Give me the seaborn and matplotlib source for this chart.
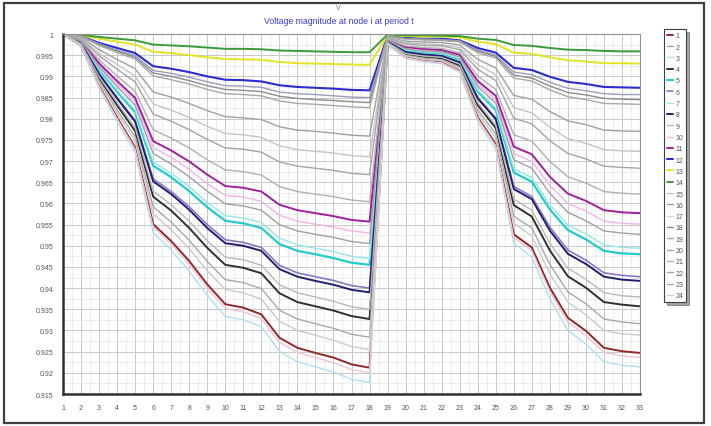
import numpy as np
import pandas as pd
import matplotlib
matplotlib.use("Agg")
import matplotlib.pyplot as plt
import seaborn as sns
from matplotlib.patches import Rectangle
from matplotlib.ticker import MultipleLocator, FuncFormatter

nodes = list(range(1, 34))
periods = [str(i) for i in range(1, 25)]

v01 = [1, .9998, .9993, .9989, .9985, .9975, .9973, .9971, .9968, .9965, .9965, .9964, .9961, .9960, .9959, .9958, .9957, .9957, .9999, .9997, .9997, .9996, .9995, .9989, .9986, .9974, .9972, .9967, .9963, .9962, .9960, .9959, .9959]
v02 = [1, .9997, .9989, .9982, .9975, .9958, .9955, .9950, .9945, .9941, .9940, .9939, .9934, .9931, .9930, .9929, .9928, .9927, .9998, .9995, .9994, .9994, .9992, .9982, .9976, .9956, .9953, .9945, .9938, .9935, .9931, .9931, .9930]
v03 = [1, .9995, .9979, .9967, .9955, .9924, .9918, .9910, .9900, .9892, .9891, .9888, .9879, .9875, .9873, .9871, .9868, .9867, .9996, .9991, .9989, .9989, .9985, .9967, .9956, .9920, .9915, .9899, .9887, .9882, .9875, .9874, .9873]
v04 = [1, .9995, .9977, .9962, .9949, .9914, .9907, .9898, .9887, .9878, .9877, .9874, .9863, .9859, .9857, .9854, .9851, .9850, .9995, .9989, .9988, .9987, .9984, .9962, .9950, .9910, .9904, .9886, .9872, .9866, .9859, .9857, .9857]
v05 = [1, .9994, .9975, .9960, .9945, .9908, .9900, .9890, .9878, .9869, .9867, .9864, .9853, .9848, .9845, .9843, .9840, .9838, .9995, .9989, .9987, .9986, .9982, .9960, .9947, .9903, .9896, .9877, .9862, .9856, .9848, .9846, .9845]
v06 = [1, .9994, .9973, .9956, .9941, .9901, .9892, .9882, .9869, .9859, .9857, .9854, .9842, .9836, .9834, .9831, .9828, .9826, .9995, .9988, .9986, .9985, .9981, .9956, .9943, .9896, .9889, .9868, .9852, .9845, .9836, .9835, .9834]
v07 = [1, .9992, .9963, .9940, .9918, .9863, .9851, .9836, .9819, .9805, .9802, .9798, .9781, .9773, .9770, .9766, .9761, .9759, .9993, .9983, .9981, .9980, .9974, .9940, .9920, .9855, .9846, .9817, .9795, .9786, .9773, .9771, .9770]
v08 = [1, .9990, .9955, .9928, .9901, .9835, .9820, .9803, .9782, .9765, .9762, .9756, .9736, .9727, .9723, .9719, .9713, .9710, .9991, .9980, .9977, .9975, .9968, .9928, .9904, .9826, .9814, .9780, .9753, .9742, .9727, .9724, .9723]
v09 = [1, .9988, .9949, .9917, .9887, .9811, .9794, .9774, .9751, .9731, .9728, .9721, .9698, .9688, .9683, .9678, .9671, .9668, .9990, .9977, .9973, .9972, .9963, .9917, .9890, .9801, .9788, .9748, .9718, .9705, .9688, .9685, .9683]
v10 = [1, .9986, .9939, .9901, .9865, .9774, .9754, .9731, .9703, .9679, .9675, .9667, .9640, .9628, .9622, .9616, .9608, .9604, .9988, .9972, .9968, .9966, .9956, .9901, .9869, .9762, .9747, .9699, .9663, .9648, .9628, .9624, .9622]
v11 = [1, .9984, .9931, .9889, .9849, .9747, .9725, .9699, .9668, .9641, .9637, .9628, .9597, .9584, .9577, .9570, .9561, .9557, .9987, .9969, .9965, .9962, .9951, .9889, .9854, .9734, .9716, .9663, .9623, .9606, .9584, .9579, .9577]
v12 = [1, .9984, .9927, .9882, .9840, .9732, .9709, .9680, .9647, .9619, .9615, .9605, .9572, .9558, .9551, .9544, .9535, .9530, .9986, .9967, .9962, .9960, .9948, .9882, .9845, .9718, .9699, .9643, .9600, .9582, .9558, .9553, .9551]
v13 = [1, .9983, .9923, .9876, .9832, .9718, .9693, .9663, .9629, .9599, .9594, .9584, .9550, .9535, .9527, .9520, .9510, .9505, .9985, .9965, .9960, .9958, .9946, .9876, .9837, .9703, .9683, .9624, .9579, .9559, .9535, .9530, .9527]
v14 = [1, .9981, .9918, .9868, .9820, .9698, .9671, .9640, .9602, .9571, .9565, .9555, .9518, .9502, .9494, .9486, .9475, .9470, .9984, .9963, .9958, .9955, .9942, .9868, .9825, .9682, .9661, .9597, .9549, .9528, .9502, .9496, .9494]
v15 = [1, .9981, .9916, .9864, .9815, .9689, .9662, .9629, .9591, .9559, .9553, .9542, .9504, .9488, .9480, .9471, .9460, .9455, .9984, .9962, .9956, .9954, .9940, .9864, .9820, .9673, .9651, .9586, .9537, .9515, .9488, .9482, .9480]
v16 = [1, .9979, .9907, .9850, .9796, .9658, .9628, .9592, .9550, .9514, .9508, .9496, .9454, .9436, .9427, .9418, .9406, .9400, .9982, .9958, .9952, .9949, .9934, .9850, .9802, .9640, .9616, .9544, .9490, .9466, .9436, .9430, .9427]
v17 = [1, .9979, .9905, .9848, .9793, .9652, .9622, .9585, .9542, .9506, .9500, .9488, .9445, .9427, .9417, .9408, .9396, .9390, .9982, .9957, .9951, .9948, .9933, .9848, .9799, .9634, .9610, .9536, .9481, .9457, .9427, .9420, .9417]
v18 = [1, .9977, .9899, .9838, .9779, .9629, .9597, .9558, .9512, .9473, .9467, .9454, .9408, .9389, .9379, .9369, .9356, .9350, .9980, .9954, .9948, .9945, .9929, .9838, .9785, .9610, .9584, .9506, .9447, .9421, .9389, .9382, .9379]
v19 = [1, .9976, .9896, .9832, .9771, .9616, .9583, .9542, .9495, .9455, .9448, .9435, .9388, .9367, .9357, .9347, .9334, .9327, .9980, .9953, .9946, .9943, .9926, .9832, .9778, .9596, .9569, .9489, .9428, .9401, .9367, .9361, .9357]
v20 = [1, .9975, .9889, .9821, .9757, .9592, .9556, .9513, .9463, .9420, .9413, .9399, .9348, .9327, .9316, .9305, .9291, .9284, .9979, .9950, .9943, .9939, .9921, .9821, .9764, .9570, .9542, .9456, .9391, .9363, .9327, .9320, .9316]
v21 = [1, .9974, .9885, .9814, .9747, .9575, .9538, .9493, .9441, .9397, .9389, .9374, .9322, .9300, .9289, .9277, .9262, .9255, .9978, .9948, .9940, .9937, .9918, .9814, .9754, .9553, .9523, .9434, .9367, .9337, .9300, .9292, .9289]
v22 = [1, .9972, .9878, .9803, .9732, .9551, .9511, .9464, .9409, .9362, .9354, .9338, .9283, .9259, .9247, .9236, .9220, .9212, .9976, .9945, .9937, .9933, .9913, .9803, .9740, .9527, .9496, .9401, .9330, .9299, .9259, .9251, .9247]
v23 = [1, .9972, .9876, .9800, .9728, .9544, .9504, .9456, .9400, .9352, .9344, .9328, .9272, .9248, .9236, .9224, .9208, .9200, .9976, .9944, .9936, .9932, .9912, .9800, .9736, .9520, .9488, .9392, .9320, .9288, .9248, .9240, .9236]
v24 = [1, .9971, .9872, .9794, .9720, .9531, .9490, .9440, .9383, .9333, .9325, .9309, .9251, .9226, .9214, .9202, .9185, .9177, .9975, .9942, .9934, .9930, .9910, .9794, .9728, .9506, .9473, .9375, .9300, .9268, .9226, .9218, .9214]

# series per period 1..24 (legend order)
series = [v22, v07, v24, v19, v15, v16, v14, v17, v18, v12, v11, v03,
          v02, v01, v08, v04, v23, v05, v06, v09, v10, v13, v20, v21]
colors = ['#8b2a2a', '#a0a0a0', '#b0e0f0', '#303030', '#22cccc', '#8878c8',
          '#96e6e6', '#202070', '#b8b8b8', '#f0b4ea', '#a0209a', '#2c2cd0',
          '#e4e424', '#3a9a3a', '#c4c4c4', '#9c9cbc', '#f0c4d4', '#8c8c8c',
          '#a8a8a8', '#a4a4a4', '#b0b0b0', '#a0a0a0', '#a8a8a8', '#cacaca']
widths = [1.4, 1.0, 1.0, 1.4, 1.6, 1.2, 1.0, 1.4, 1.0, 1.0, 1.4, 1.5,
          1.4, 1.4, 1.0, 1.0, 1.0, 1.0, 1.0, 1.0, 1.0, 1.0, 1.0, 1.0]

rows = []
for p, vals in zip(periods, series):
    for n, v in zip(nodes, vals):
        rows.append((p, n, v))
df = pd.DataFrame(rows, columns=["period", "node", "V"])

sns.set_style("white")
plt.rcParams['font.family'] = ['Liberation Sans', 'DejaVu Sans']

W, H = 711, 427
fig = plt.figure(figsize=(W / 100, H / 100), dpi=100)
ax = fig.add_axes([63 / W, 1 - 395 / H, (640 - 63) / W, (395 - 35) / H])

for p, c, lw in zip(periods, colors, widths):
    sub = df[df["period"] == p]
    sns.lineplot(data=sub, x="node", y="V", color=c, linewidth=lw, ax=ax,
                 label=p, legend=False)

ax.set_xlim(1, 33)
ax.set_ylim(0.915, 1.0)
ax.xaxis.set_major_locator(MultipleLocator(1))
ax.xaxis.set_minor_locator(MultipleLocator(0.5))
ax.yaxis.set_major_locator(MultipleLocator(0.005))
ax.yaxis.set_minor_locator(MultipleLocator(0.0025))
ax.yaxis.set_major_formatter(FuncFormatter(lambda v, _: f"{round(v, 3):g}"))
ax.grid(True, which='major', color='#c8c8c8', linewidth=0.7)
ax.grid(True, which='minor', color='#e6e6e6', linewidth=0.5)
ax.set_axisbelow(True)
ax.tick_params(axis='both', which='major', labelsize=5, colors='#555555',
               length=3, width=0.6, pad=4)
ax.tick_params(which='minor', length=0)
ax.set_xlabel("")
ax.set_ylabel("")
for s in ['top', 'right']:
    ax.spines[s].set_color('#909090')
    ax.spines[s].set_linewidth(0.8)
for s in ['left', 'bottom']:
    ax.spines[s].set_color('#303030')
    ax.spines[s].set_linewidth(1.8)

fig.text(338 / W, 1 - 8 / H, "V", ha='center', va='center', fontsize=5,
         color='#777777')
fig.text(339 / W, 1 - 22 / H, "Voltage magnitude at node i at period t",
         ha='center', va='center', fontsize=6.3, color='#3c3cd0')

handles, labels = ax.get_legend_handles_labels()
leg = fig.legend(handles, labels, loc='upper left',
                 bbox_to_anchor=(661 / W, 1 - 27 / H), fontsize=5,
                 handlelength=0.8, handletextpad=0.4, labelspacing=0.62,
                 borderpad=0.4, frameon=True, fancybox=False, shadow=True)
leg.get_frame().set_edgecolor('#404040')
leg.get_frame().set_linewidth(0.8)
for t in leg.get_texts():
    t.set_color('#555555')

fig.patches.append(Rectangle((4 / W, 3 / H), (704 - 4) / W, (423 - 3) / H,
                             transform=fig.transFigure, fill=False,
                             edgecolor='#404040', linewidth=1.6))

fig.savefig("out.png", dpi=100)
